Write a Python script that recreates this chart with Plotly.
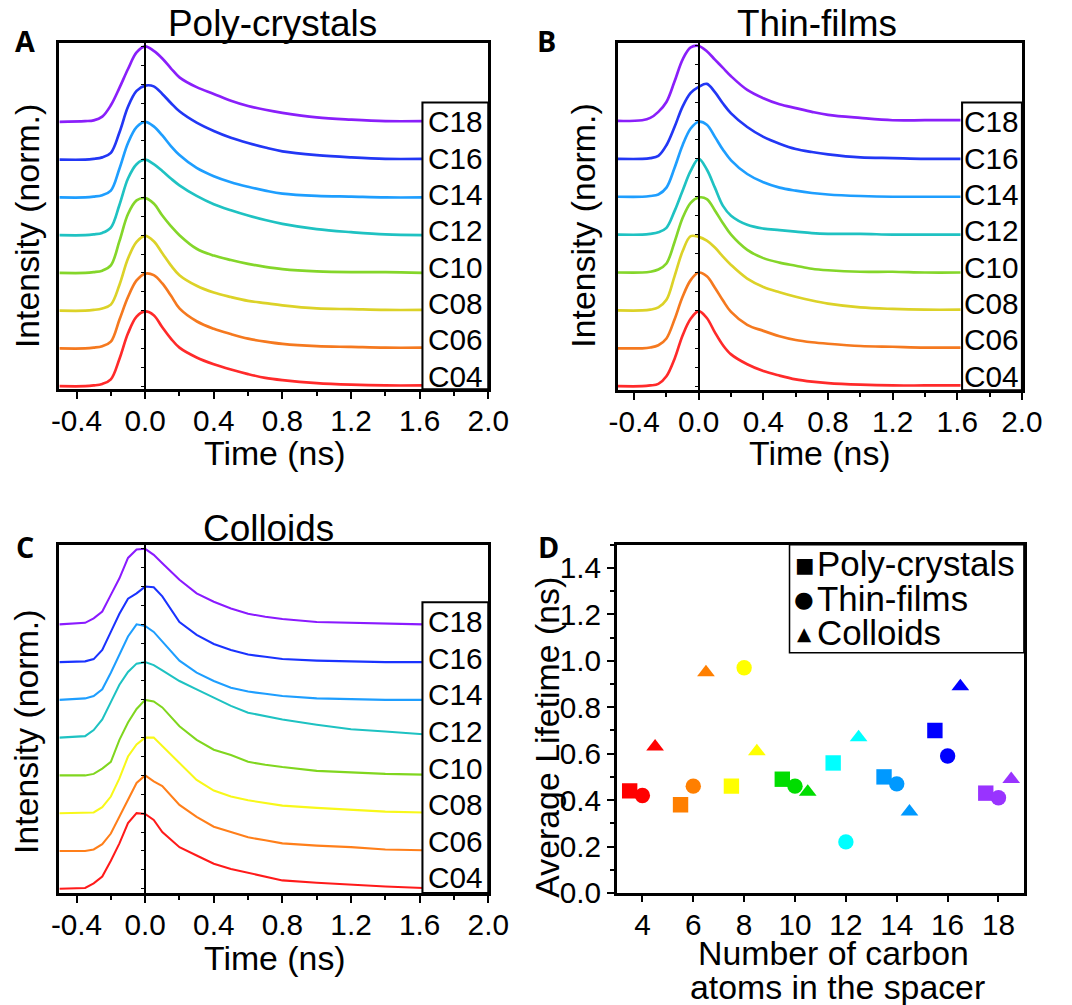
import plotly.graph_objects as go

# Measured mapping from page CSS px to the photographed picture: pic = OFF + SC * page.
OFF, SC = 7.5, 0.975
FW, FH = 1092, 1023          # figure size in CSS px (body margin removed)

# ---------------- data ----------------
labels = ["C04", "C06", "C08", "C10", "C12", "C14", "C16", "C18"]

T_AB = [-0.5, -0.35, -0.3, -0.25, -0.2, -0.15, -0.1, -0.05, 0.0, 0.05, 0.1, 0.15,
        0.2, 0.3, 0.4, 0.5, 0.6, 0.7, 0.8, 1.0, 1.2, 1.4, 1.62]
T_C = [-0.5, -0.35, -0.3, -0.25, -0.2, -0.15, -0.1, -0.05, 0.0, 0.05, 0.1, 0.2,
       0.3, 0.4, 0.5, 0.6, 0.7, 0.8, 1.0, 1.2, 1.4, 1.62]

# Poly-crystals (panel A), normalized intensity
A_C04 = [0, 0, 0.01, 0.03, 0.09, 0.36, 0.70, 0.92, 0.99, 0.94, 0.78, 0.63, 0.51, 0.38, 0.29, 0.22, 0.16, 0.11, 0.08, 0.04, 0.02, 0.01, 0.01]
A_C06 = [0, 0, 0.01, 0.03, 0.09, 0.38, 0.68, 0.90, 0.99, 0.97, 0.86, 0.70, 0.53, 0.36, 0.26, 0.19, 0.13, 0.09, 0.06, 0.03, 0.02, 0.01, 0.01]
A_C08 = [0, 0, 0.01, 0.03, 0.08, 0.34, 0.69, 0.91, 0.99, 0.92, 0.76, 0.60, 0.47, 0.33, 0.24, 0.18, 0.13, 0.10, 0.07, 0.03, 0.02, 0.01, 0.01]
A_C10 = [0, 0, 0.01, 0.03, 0.10, 0.42, 0.78, 0.96, 0.99, 0.92, 0.76, 0.62, 0.50, 0.32, 0.23, 0.17, 0.12, 0.08, 0.05, 0.02, 0.01, 0.01, 0.0]
A_C12 = [0, 0, 0.01, 0.03, 0.10, 0.40, 0.75, 0.94, 1.0, 0.94, 0.85, 0.75, 0.66, 0.52, 0.41, 0.33, 0.26, 0.20, 0.15, 0.08, 0.04, 0.01, 0.0]
A_C14 = [0, 0, 0.01, 0.03, 0.09, 0.38, 0.72, 0.93, 1.0, 0.94, 0.82, 0.68, 0.56, 0.39, 0.28, 0.20, 0.14, 0.09, 0.05, 0.02, 0.01, 0.0, 0.0]
A_C16 = [0, 0, 0.01, 0.03, 0.09, 0.36, 0.70, 0.91, 0.98, 0.97, 0.87, 0.75, 0.64, 0.49, 0.38, 0.29, 0.22, 0.16, 0.11, 0.06, 0.03, 0.01, 0.01]
A_C18 = [0, 0.01, 0.02, 0.07, 0.22, 0.45, 0.70, 0.92, 1.0, 0.94, 0.84, 0.71, 0.59, 0.46, 0.37, 0.28, 0.21, 0.16, 0.12, 0.06, 0.03, 0.01, 0.01]

# Thin-films (panel B)
B_C04 = [0, 0, 0.01, 0.03, 0.13, 0.36, 0.67, 0.89, 0.99, 0.90, 0.71, 0.54, 0.42, 0.29, 0.20, 0.14, 0.09, 0.06, 0.04, 0.02, 0.01, 0.01, 0.01]
B_C06 = [0, 0, 0.01, 0.04, 0.13, 0.38, 0.68, 0.90, 1.0, 0.95, 0.80, 0.63, 0.48, 0.31, 0.23, 0.16, 0.11, 0.08, 0.06, 0.03, 0.02, 0.01, 0.01]
B_C08 = [0, 0, 0.01, 0.04, 0.14, 0.45, 0.78, 0.98, 0.97, 0.92, 0.83, 0.71, 0.60, 0.42, 0.31, 0.24, 0.18, 0.13, 0.09, 0.04, 0.02, 0.01, 0.01]
B_C10 = [0, 0, 0.01, 0.04, 0.12, 0.40, 0.72, 0.92, 0.99, 0.97, 0.82, 0.65, 0.50, 0.30, 0.19, 0.13, 0.09, 0.05, 0.03, 0.01, 0.01, 0.0, 0.0]
B_C12 = [0, 0, 0.01, 0.03, 0.09, 0.31, 0.58, 0.84, 1.0, 0.86, 0.62, 0.38, 0.25, 0.13, 0.08, 0.06, 0.04, 0.02, 0.01, 0.01, 0.0, 0.0, 0.0]
B_C14 = [0, 0, 0.01, 0.03, 0.12, 0.38, 0.68, 0.90, 0.99, 0.95, 0.79, 0.62, 0.48, 0.30, 0.19, 0.12, 0.08, 0.05, 0.03, 0.01, 0.0, 0.0, 0.0]
B_C16 = [0, 0, 0.01, 0.04, 0.18, 0.42, 0.69, 0.87, 0.95, 0.99, 0.88, 0.73, 0.60, 0.42, 0.29, 0.20, 0.13, 0.09, 0.06, 0.02, 0.01, 0.0, 0.0]
B_C18 = [0, 0.01, 0.04, 0.12, 0.25, 0.52, 0.81, 0.97, 0.99, 0.92, 0.81, 0.70, 0.59, 0.41, 0.30, 0.22, 0.17, 0.12, 0.08, 0.04, 0.01, 0.01, 0.01]

# Colloids (panel C)
C_C04 = [0, 0.01, 0.07, 0.16, 0.37, 0.60, 0.87, 1.0, 0.99, 0.91, 0.75, 0.55, 0.44, 0.33, 0.26, 0.21, 0.15, 0.11, 0.08, 0.05, 0.03, 0.01]
C_C06 = [0, 0.0, 0.02, 0.09, 0.23, 0.45, 0.68, 0.90, 1.0, 0.92, 0.86, 0.61, 0.45, 0.32, 0.25, 0.18, 0.14, 0.10, 0.07, 0.05, 0.02, 0.01]
C_C08 = [0, 0.0, 0.01, 0.08, 0.22, 0.46, 0.75, 0.91, 1.0, 1.0, 0.89, 0.66, 0.44, 0.30, 0.22, 0.17, 0.13, 0.10, 0.07, 0.04, 0.02, 0.01]
C_C10 = [0, 0.0, 0.02, 0.09, 0.18, 0.47, 0.70, 0.88, 1.0, 0.98, 0.90, 0.65, 0.47, 0.34, 0.27, 0.18, 0.14, 0.11, 0.06, 0.04, 0.02, 0.01]
C_C12 = [0, 0.02, 0.10, 0.24, 0.47, 0.70, 0.87, 0.98, 1.0, 0.96, 0.89, 0.75, 0.64, 0.53, 0.42, 0.33, 0.28, 0.24, 0.17, 0.11, 0.08, 0.045]
C_C14 = [0, 0.02, 0.05, 0.14, 0.36, 0.59, 0.84, 1.0, 0.98, 0.90, 0.77, 0.52, 0.36, 0.25, 0.16, 0.11, 0.08, 0.05, 0.02, 0.01, 0.0, 0.0]
C_C16 = [0, 0.01, 0.04, 0.16, 0.40, 0.64, 0.84, 0.91, 1.0, 0.99, 0.87, 0.53, 0.36, 0.24, 0.16, 0.10, 0.07, 0.04, 0.02, 0.01, 0.0, 0.0]
C_C18 = [0, 0.02, 0.08, 0.17, 0.39, 0.61, 0.88, 0.99, 1.0, 0.92, 0.81, 0.59, 0.41, 0.30, 0.21, 0.14, 0.10, 0.07, 0.03, 0.02, 0.01, 0.0]

POLY = [A_C04, A_C06, A_C08, A_C10, A_C12, A_C14, A_C16, A_C18]
FILM = [B_C04, B_C06, B_C08, B_C10, B_C12, B_C14, B_C16, B_C18]
COLL = [C_C04, C_C06, C_C08, C_C10, C_C12, C_C14, C_C16, C_C18]

# Panel D: average lifetimes (ns)
carbons = [4, 6, 8, 10, 12, 14, 16, 18]
tau_poly = [0.44, 0.38, 0.46, 0.49, 0.56, 0.50, 0.70, 0.43]
tau_film = [0.42, 0.46, 0.97, 0.46, 0.22, 0.47, 0.59, 0.41]
tau_coll = [0.63, 0.95, 0.61, 0.435, 0.67, 0.35, 0.89, 0.49]

time_ticks = [-0.4, 0.0, 0.4, 0.8, 1.2, 1.6, 2.0]
time_ticktext = ["-0.4", "0.0", "0.4", "0.8", "1.2", "1.6", "2.0"]
d_xticks = [4, 6, 8, 10, 12, 14, 16, 18]
d_yticks = [0.0, 0.2, 0.4, 0.6, 0.8, 1.0, 1.2, 1.4]

# ---------------- styles ----------------
COL_AB = ["#FF2A2A", "#F5791F", "#DCD228", "#84D62A", "#1FC2C2", "#1E9EFF", "#2237F5", "#8A1FFA"]
COL_C = ["#FF1A1A", "#FF7F1A", "#F8F81A", "#80D61F", "#1EC2C2", "#1E9EFF", "#1A33FF", "#8A1AFF"]
COL_D = ["#FF0000", "#FF7F00", "#FFFF00", "#00DD00", "#00FFFF", "#0099FF", "#0000FF", "#9933FF"]

FONT = "Liberation Sans, Arial, sans-serif"
LET = "Open Sans, DejaVu Sans, sans-serif"
BLACK = "black"


def s(v):
    """scale a pixel size from picture px to page px"""
    return v / SC


def px(x):
    return ((x - OFF) / SC) / FW


def py(y):
    return 1 - ((y - OFF) / SC) / FH


# panel pixel boxes (target picture coordinates): left, right, top, bottom
PANELS = {
    "A": (58, 488, 50, 393),
    "B": (618, 1023, 50, 394),
    "C": (58, 488, 547, 892),
    "D": (617, 1025, 547, 892),
}
YR = {"A": [-0.04, 4.546], "B": [-0.053, 4.53], "C": [-0.057, 4.555]}

fig = go.Figure()

layout = dict(
    width=FW, height=FH,
    margin=dict(l=0, r=0, t=0, b=0),
    paper_bgcolor="white", plot_bgcolor="white",
    showlegend=False,
    font=dict(family=FONT, color=BLACK),
)

axis_ids = {"A": ("x", "y", "xaxis", "yaxis"),
            "B": ("x2", "y2", "xaxis2", "yaxis2"),
            "C": ("x3", "y3", "xaxis3", "yaxis3"),
            "D": ("x4", "y4", "xaxis4", "yaxis4")}
zero_ids = {"A": ("y5", "yaxis5"), "B": ("y6", "yaxis6"), "C": ("y7", "yaxis7")}

datasets = {"A": (T_AB, POLY, COL_AB, 2.6, "spline"),
            "B": (T_AB, FILM, COL_AB, 2.6, "spline"),
            "C": (T_C, COLL, COL_C, 2.0, "linear")}

annotations = []
shapes = []

TICKFONT = dict(size=s(29), family=FONT, color=BLACK)

for key in ["A", "B", "C"]:
    l, r, t, b = PANELS[key]
    xa, ya, xname, yname = axis_ids[key]
    T, curves, cols, lw, shape = datasets[key]
    for i, (vals, c) in enumerate(zip(curves, cols)):
        off = 0.5 * i
        fig.add_trace(go.Scatter(
            x=T, y=[v + off for v in vals], mode="lines",
            line=dict(color=c, width=s(lw), shape=shape, smoothing=1.0),
            xaxis=xa, yaxis=ya, name=labels[i], hoverinfo="skip"))
    layout[xname] = dict(
        domain=[px(l), px(r)], anchor=ya, range=[-0.5, 2.0],
        tickmode="array", tickvals=time_ticks, ticktext=time_ticktext,
        ticks="outside", ticklen=s(7), tickwidth=s(2), tickcolor=BLACK,
        ticklabelstandoff=-4,
        minor=dict(ticks="outside", ticklen=s(4), tickwidth=s(2), tickcolor=BLACK,
                   tickmode="linear", tick0=0, dtick=0.2, showgrid=False),
        showline=True, linewidth=s(2.5), linecolor=BLACK, mirror=True,
        showgrid=False, zeroline=False, tickfont=TICKFONT)
    layout[yname] = dict(
        domain=[py(b), py(t)], anchor=xa, range=YR[key],
        showticklabels=False, ticks="",
        showline=True, linewidth=s(2.5), linecolor=BLACK, mirror=True,
        showgrid=False, zeroline=False)
    # vertical axis line at t = 0 with small ticks
    zy, zname = zero_ids[key]
    pos = px(l) + (0 - (-0.5)) / 2.5 * (px(r) - px(l))
    layout[zname] = dict(
        overlaying=ya, anchor="free", position=pos, side="left",
        range=YR[key], showticklabels=False,
        ticks="outside", ticklen=s(3), tickwidth=1, tickcolor=BLACK,
        tickmode="linear", tick0=0, dtick=0.25,
        showline=True, linewidth=s(1.5), linecolor=BLACK,
        showgrid=False, zeroline=False)
    fig.add_trace(go.Scatter(x=[None], y=[None], xaxis=xa, yaxis=zy,
                             showlegend=False, hoverinfo="skip"))

# ---------------- panel D ----------------
l, r, t, b = PANELS["D"]
series_d = [(tau_poly, -0.5, "square", "Poly-crystals"),
            (tau_film, 0.0, "circle", "Thin-films"),
            (tau_coll, 0.5, "triangle-up", "Colloids")]
for vals, dx, sym, name in series_d:
    fig.add_trace(go.Scatter(
        x=[c + dx for c in carbons], y=vals, mode="markers", name=name,
        marker=dict(symbol=sym, size=s(15), color=COL_D, line=dict(width=0)),
        xaxis="x4", yaxis="y4", hoverinfo="skip"))

layout["xaxis4"] = dict(
    domain=[px(l), px(r)], anchor="y4", range=[3, 19],
    tickmode="array", tickvals=d_xticks,
    ticks="outside", ticklen=s(6), tickwidth=s(2), tickcolor=BLACK,
    ticklabelstandoff=-3,
    showline=True, linewidth=s(2.5), linecolor=BLACK, mirror=True,
    showgrid=False, zeroline=False, tickfont=TICKFONT)
layout["yaxis4"] = dict(
    domain=[py(b), py(t)], anchor="x4", range=[0, 1.5],
    tickmode="array", tickvals=d_yticks, tickformat=".1f",
    ticks="outside", ticklen=s(7), tickwidth=s(2), tickcolor=BLACK,
    minor=dict(ticks="outside", ticklen=s(4), tickwidth=s(2), tickcolor=BLACK,
               tickmode="linear", tick0=0, dtick=0.1, showgrid=False),
    showline=True, linewidth=s(2.5), linecolor=BLACK, mirror=True,
    showgrid=False, zeroline=False, tickfont=TICKFONT)


def ann(text, x, y, size, angle=0, xanchor="center", yanchor="middle", family=FONT):
    annotations.append(dict(
        text=text, x=px(x), y=py(y), xref="paper", yref="paper",
        showarrow=False, xanchor=xanchor, yanchor=yanchor, textangle=angle,
        font=dict(size=s(size), family=family, color=BLACK)))


# titles
ann("Poly-crystals", 272, 31, 36)
ann("Thin-films", 818, 31, 36)
ann("Colloids", 268, 531, 36)
# panel letters
ann("<b>A</b>", 24, 48, 28, family=LET)
ann("<b>B</b>", 546, 48, 28, family=LET)
ann("<b>C</b>", 24, 549, 28, family=LET)
ann("<b>D</b>", 548, 549, 28, family=LET)
# axis titles
ann("Intensity (norm.)", 25, 231, 33, angle=-90)
ann("Intensity (norm.)", 583, 231, 33, angle=-90)
ann("Intensity (norm.)", 25, 732, 33, angle=-90)
ann("Average Lifetime (ns)", 546, 738, 33, angle=-90)
ann("Time (ns)", 274, 456, 33)
ann("Time (ns)", 821, 456, 33)
ann("Time (ns)", 274, 956, 33)
ann("Number of carbon", 834, 951, 33)
ann("atoms in the spacer", 838, 985, 33)

# label boxes in A, B, C
boxes = {"A": (422, 488, 109, 393, 455, 128, 36.0),
         "B": (963, 1023, 109, 394, 992, 128, 36.0),
         "C": (422, 488, 604, 892, 455, 623, 36.3)}
for key, (x0, x1, y0, y1, tx, ty0, dy) in boxes.items():
    shapes.append(dict(type="rect", xref="paper", yref="paper",
                       x0=px(x0), x1=px(x1), y0=py(y1), y1=py(y0),
                       line=dict(color=BLACK, width=s(2)), fillcolor="white"))
    for j, lab in enumerate(reversed(labels)):
        ann(lab, tx, ty0 + j * dy, 29)

# legend box for D
shapes.append(dict(type="rect", xref="paper", yref="paper",
                   x0=px(790), x1=px(1025), y0=py(654), y1=py(547),
                   line=dict(color=BLACK, width=s(1.5)), fillcolor="white"))
leg = [("■", 20, "Poly-crystals", 566), ("●", 22, "Thin-films", 600), ("▲", 18, "Colloids", 634)]
for sym, ssize, name, yy in leg:
    ann(sym, 805, yy + 1, ssize, family="DejaVu Sans, sans-serif")
    ann(name, 816, yy, 34, xanchor="left")

layout["annotations"] = annotations
layout["shapes"] = shapes
fig.update_layout(**layout)

fig.write_html("out.html", config={"displayModeBar": False},
               post_script="document.body.style.margin='0px';")
